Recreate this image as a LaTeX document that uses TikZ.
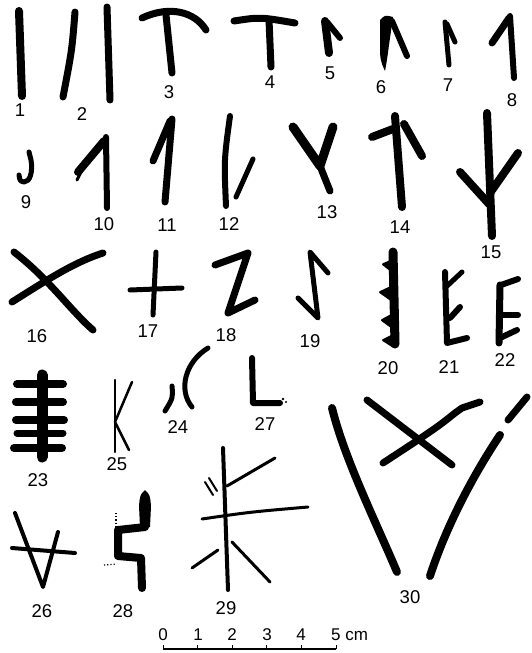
\documentclass[tikz,border=0pt]{standalone}
\usepackage{fontspec}
\setmainfont{Liberation Sans}
\usepackage{tikz}

\tikzset{
    ink/.style={line width=#1, line cap=round, line join=round},
    ink/.default=7pt,
    numlabel/.style={font=\fontsize{18.5}{18.5}\selectfont, inner sep=0pt},
    scalelabel/.style={font=\fontsize{17}{17}\selectfont, inner sep=0pt},
}

\begin{document}
\begin{tikzpicture}[x=1pt, y=-1pt]
        \useasboundingbox (0,0) rectangle (532,653);

        % row one
        \draw[ink=8pt] (19,11) -- (22,96);
        \draw[ink=7pt] (75,12) .. controls (72,50) .. (63,97);
        \draw[ink=7pt] (107,7) -- (110,100);
        \draw[ink=7pt] (142,18) .. controls (170,5) and (195,12) .. (206,30);
        \draw[ink=7pt] (166,15) -- (172,73);
        \draw[ink=7pt] (234,21) .. controls (260,17) .. (295,23);
        \draw[ink=7pt] (269,20) -- (271,67);
        \draw[ink=8pt] (325,21) -- (329,53);
        \draw[ink=6pt] (327,22) -- (340,38);
        \fill (380,20) .. controls (385,15) .. (393,17) -- (389,45) .. controls (387,60) .. (385,71) .. controls (380,60) .. (380,40) -- cycle;
        \draw[ink=6pt] (392,21) -- (407,56);
        \draw[ink=5pt] (445,22) -- (449,65);
        \draw[ink=5pt] (447,24) -- (455,42);
        \draw[ink=6pt] (510,16) -- (514,78);
        \draw[ink=7pt] (509,18) -- (492,43);

        % row two
        \draw[ink=5pt] (29,152) -- (31,160) .. controls (33,172) and (30,182) .. (24,182) .. controls (20,181) .. (19,175);
        \draw[ink=6pt] (106,137) -- (107,208);
        \draw[ink=8pt] (104,141) -- (78,172);
        \draw[ink=3pt] (82,170) -- (77,180);
        \draw[ink=7pt] (172,119) -- (165,202);
        \draw[ink=7pt] (170,121) -- (153,161);
        \draw[ink=6pt] (230,116) .. controls (224,160) .. (226,206);
        \draw[ink=5pt] (253,159) -- (236,197);
        \draw[ink=9pt] (293,127) -- (320,166) -- (333,127);
        \draw[ink=7pt] (320,166) -- (330,191);
        \draw[ink=8pt] (395,116) -- (402,207);
        \draw[ink=8pt] (393,129) -- (372,137);
        \draw[ink=8pt] (404,124) -- (422,156);
        \draw[ink=8pt] (487,113) -- (492,236);
        \draw[ink=8pt] (460,172) -- (489,204);
        \draw[ink=8pt] (518,153) -- (490,193);

        % row three
        \draw[ink=7pt] (14,252) .. controls (50,280) and (70,310) .. (93,330);
        \draw[ink=7pt] (12,302) .. controls (50,278) and (75,262) .. (103,253);
        \draw[ink=5pt] (156,252) -- (153,315);
        \draw[ink=5pt] (130,290) -- (182,288);
        \draw[ink=7pt] (215,265) -- (248,253) -- (228,313) -- (255,300);
        \draw[ink=5pt] (328,273) -- (310,252) -- (318,318) -- (298,298);
        \draw[ink=9pt] (393,252) -- (395,344);
        \fill[rounded corners=2pt] (395,258) -- (381,264) -- (395,275) -- cycle;
        \fill[rounded corners=2pt] (395,284) -- (378,292) -- (395,304) -- cycle;
        \fill[rounded corners=2pt] (395,312) -- (380,320) -- (395,331) -- cycle;
        \fill[rounded corners=2pt] (395,333) -- (381,340) -- (395,349) -- cycle;
        \draw[ink=6pt] (445,272) -- (447,343) -- (467,338);
        \draw[ink=5pt] (446,287) -- (462,272);
        \draw[ink=6pt] (450,318) -- (460,307);
        \draw[ink=7pt] (500,285) -- (499,343);
        \draw[ink=6pt] (501,285) -- (518,279);
        \draw[ink=6pt] (501,315) -- (518,315);
        \draw[ink=6pt] (500,338) -- (517,330);

        % row four
        \draw[ink=11pt] (42,375) -- (42,457);
        \draw[ink=8pt] (17,384) -- (63,384);
        \draw[ink=8pt] (16,402) -- (63,402);
        \draw[ink=8pt] (16,420) -- (64,420);
        \draw[ink=7pt] (17,433) -- (63,433);
        \draw[ink=8pt] (14,448) -- (62,448);
        \draw[ink=2.5pt] (115,380) -- (115,452);
        \draw[ink=2.5pt] (132,382) -- (115,422) -- (129,450);
        \draw[ink=5pt] (208,348) .. controls (185,362) and (178,390) .. (192,407);
        \draw[ink=5pt] (172,386) .. controls (173,398) .. (165,411);
        \draw[ink=6pt] (252,358) -- (253,403) -- (280,403);
        \fill (283,399) circle (1.3pt) (286,402) circle (1.1pt);

        % row five
        \draw[ink=4pt] (15,513) -- (43,587) -- (58,532);
        \draw[ink=4pt] (12,548) -- (75,553);
        \fill (140,527) -- (139,506) .. controls (140,495) .. (145,490) .. controls (150,495) .. (151,506) -- (150,527) -- cycle;
        \draw[ink=8pt] (145,512) -- (145,527) -- (118,530) -- (118,556) -- (141,558) -- (142,588);
        \draw[line width=1.2pt, dotted] (116,513) -- (116,527);
        \draw[line width=1.2pt, dotted] (104,565) -- (116,564);
        \draw[ink=4pt] (223,448) -- (228,590);
        \draw[ink=3pt] (227,486) -- (275,458);
        \draw[ink=2pt] (205,482) -- (213,495);
        \draw[ink=2pt] (209,478) -- (217,491);
        \draw[ink=3pt] (202,519) .. controls (250,512) .. (308,507);
        \draw[ink=3pt] (218,550) -- (192,568);
        \draw[ink=3pt] (232,542) -- (270,582);
        \draw[ink=8pt] (332,408) .. controls (345,460) and (375,520) .. (397,572);
        \draw[ink=8pt] (500,435) .. controls (470,480) and (445,530) .. (430,576);
        \draw[ink=7pt] (527,397) -- (508,420);
        \draw[ink=7pt] (367,400) -- (452,465);
        \draw[ink=7pt] (383,463) -- (415,442) .. controls (440,425) .. (455,413) -- (462,408) -- (480,402);

        % labels
        \node[numlabel] (n1) at (20,110) {1};
        \node[numlabel] (n2) at (82,114) {2};
        \node[numlabel] (n3) at (169,92) {3};
        \node[numlabel] (n4) at (270,82) {4};
        \node[numlabel] (n5) at (330,73) {5};
        \node[numlabel] (n6) at (381,87) {6};
        \node[numlabel] (n7) at (448,85) {7};
        \node[numlabel] (n8) at (512,100) {8};
        \node[numlabel] (n9) at (26,202) {9};
        \node[numlabel] (n10) at (104,224) {10};
        \node[numlabel] (n11) at (167,225) {11};
        \node[numlabel] (n12) at (229,224) {12};
        \node[numlabel] (n13) at (327,212) {13};
        \node[numlabel] (n14) at (400,227) {14};
        \node[numlabel] (n15) at (491,252) {15};
        \node[numlabel] (n16) at (37,336) {16};
        \node[numlabel] (n17) at (148,331) {17};
        \node[numlabel] (n18) at (226,335) {18};
        \node[numlabel] (n19) at (310,341) {19};
        \node[numlabel] (n20) at (388,368) {20};
        \node[numlabel] (n21) at (449,367) {21};
        \node[numlabel] (n22) at (505,360) {22};
        \node[numlabel] (n23) at (38,480) {23};
        \node[numlabel] (n24) at (178,427) {24};
        \node[numlabel] (n25) at (117,464) {25};
        \node[numlabel] (n26) at (42,611) {26};
        \node[numlabel] (n27) at (265,424) {27};
        \node[numlabel] (n28) at (123,611) {28};
        \node[numlabel] (n29) at (226,608) {29};
        \node[numlabel] (n30) at (410,597) {30};

        % scale
        \node[scalelabel] (c0) at (163,635) {0};
        \node[scalelabel] (c1) at (198,635) {1};
        \node[scalelabel] (c2) at (232,635) {2};
        \node[scalelabel] (c3) at (267,635) {3};
        \node[scalelabel] (c4) at (301,635) {4};
        \node[scalelabel, anchor=west] (c5) at (331,635) {5 cm};
        \draw[line width=1.5pt] (163,649) -- (336,649);
        \foreach \t in {0,...,5}
            \draw[line width=1pt] (163+34.6*\t,649) -- ++(0,-4);
\end{tikzpicture}
\end{document}
